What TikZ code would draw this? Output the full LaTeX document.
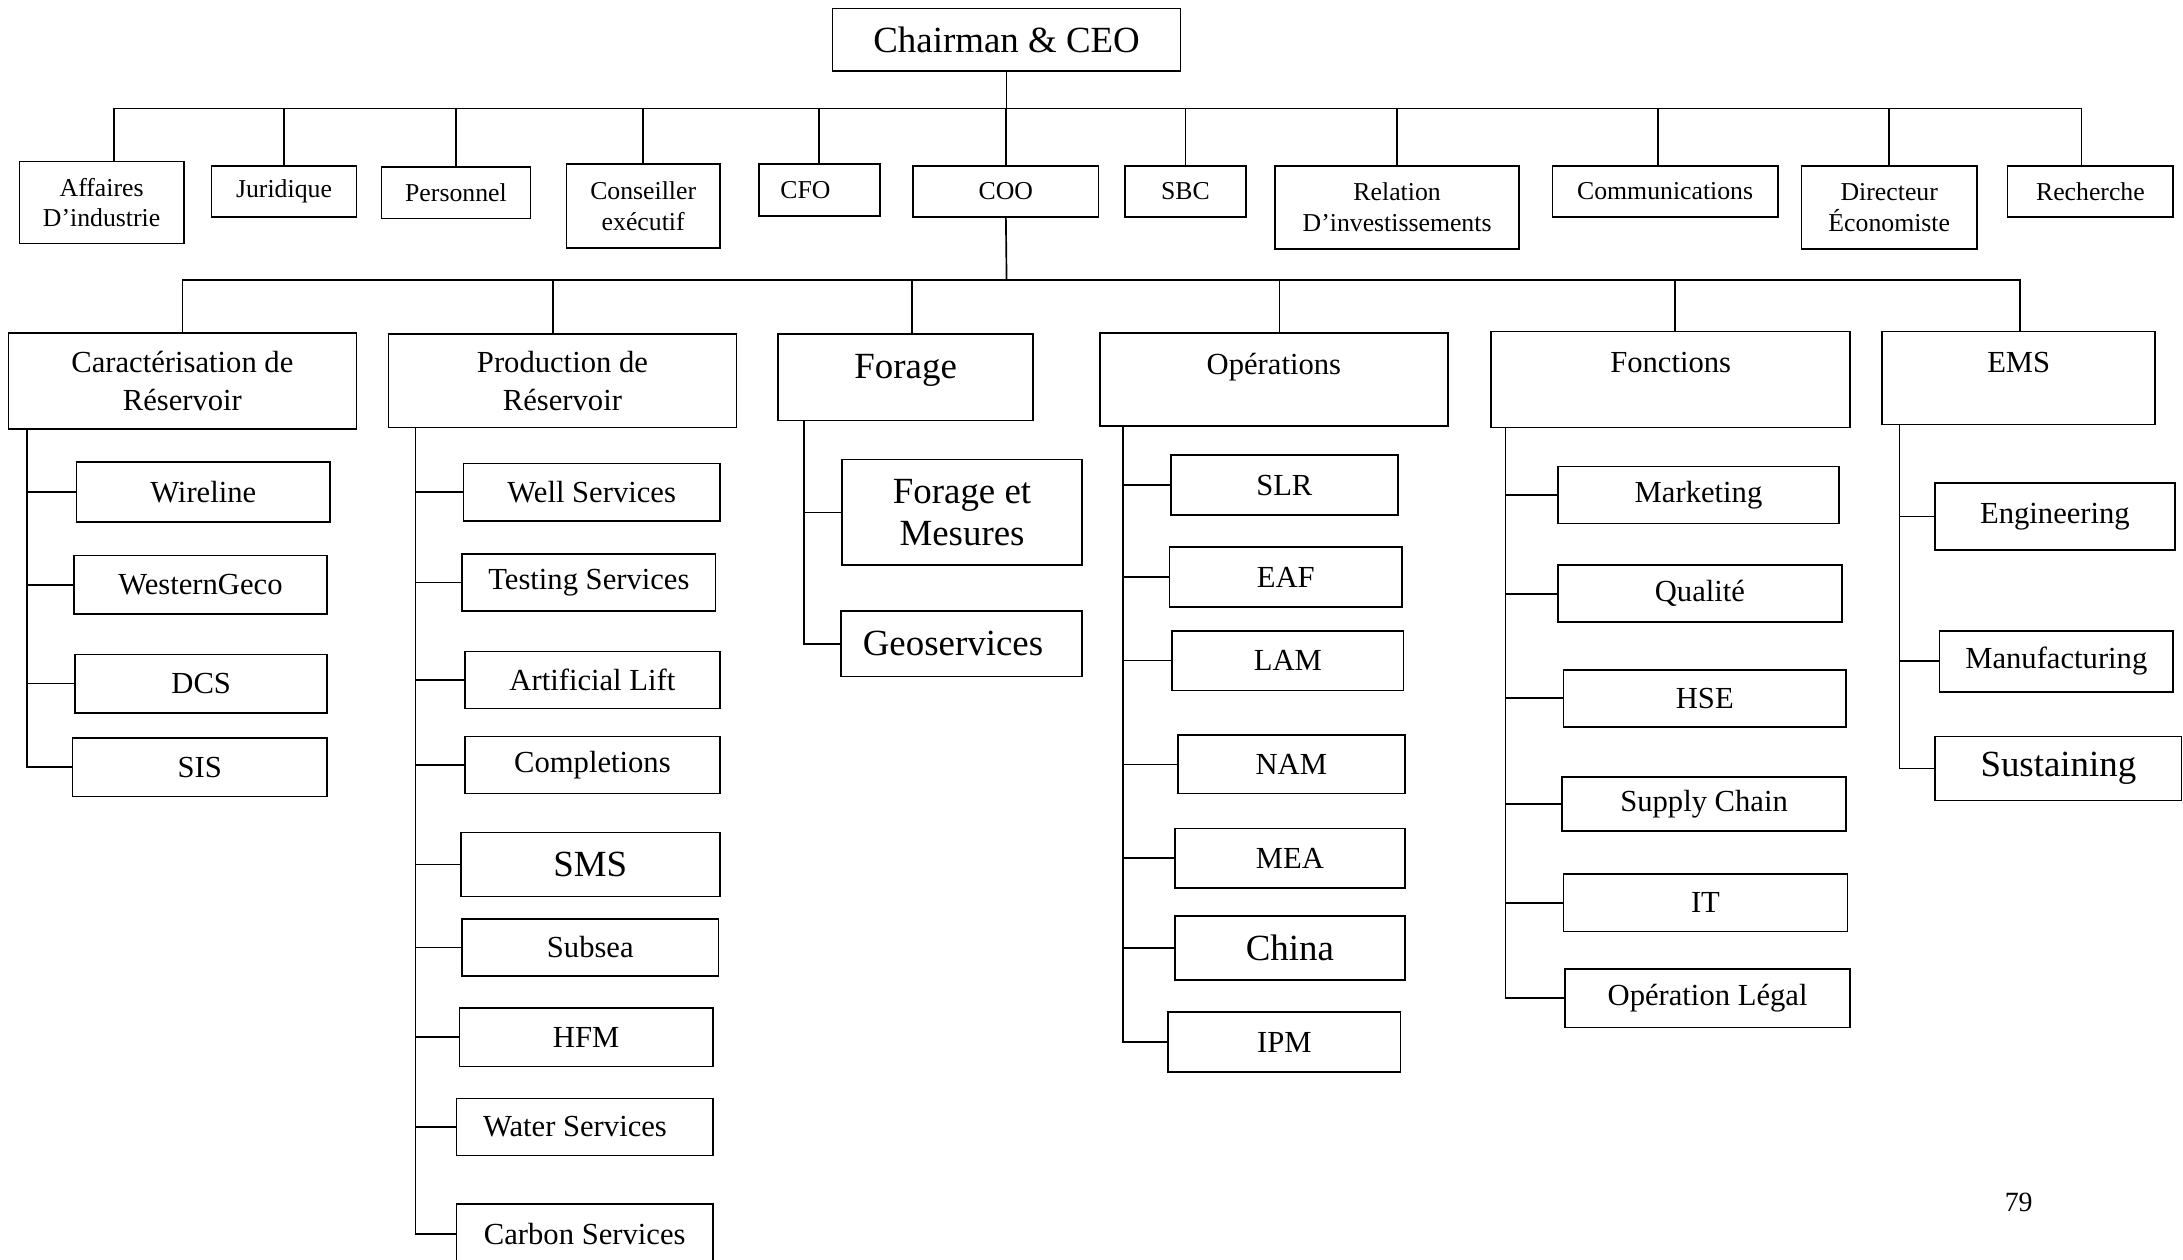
\documentclass[tikz,border=0pt]{standalone}
\usepackage{fontspec}
\setmainfont{Liberation Serif}
\begin{document}
\begin{tikzpicture}[x=1pt,y=1pt,
  box/.style={draw,line width=1.2pt,inner sep=0pt,align=center},
  fa/.style={font=\fontsize{18.5}{22}\selectfont},
  fb/.style={font=\fontsize{22}{27}\selectfont},
  fc/.style={font=\fontsize{26.5}{30}\selectfont},
  ln/.style={line width=1.2pt}]
\useasboundingbox (0,0) rectangle (1568,-905);
% top
\node[box,fc,minimum width=250,minimum height=45] (ceo) at (723,-28.5) {Chairman \& CEO};
% level 1
\node[box,fa,minimum width=118,minimum height=59] (aff) at (73,-145.5) {Affaires\\D’industrie};
\node[box,fa,minimum width=104,minimum height=37] (jur) at (204,-137.5) {Juridique};
\node[box,fa,minimum width=107,minimum height=37] (per) at (327.5,-138.5) {Personnel};
\node[box,fa,minimum width=110,minimum height=60] (con) at (462,-148) {Conseiller\\exécutif};
\node[box,minimum width=87,minimum height=37] (cfo) at (588.5,-136.5) {};
\node[fa] (cfot) at ([xshift=-10pt]cfo.center) {CFO};
\node[box,fa,minimum width=133,minimum height=37] (coo) at (722.5,-137.5) {COO};
\node[box,fa,minimum width=87,minimum height=37] (sbc) at (851.5,-137.5) {SBC};
\node[box,fa,minimum width=175,minimum height=60] (rel) at (1003.5,-149) {Relation\\D’investissements};
\node[box,fa,minimum width=162,minimum height=37] (com) at (1196,-137.5) {Communications};
\node[box,fa,minimum width=126,minimum height=60] (dir) at (1357,-149) {Directeur\\Économiste};
\node[box,fa,minimum width=119,minimum height=37] (rec) at (1501.5,-137.5) {Recherche};
% level 1 connectors
\coordinate (b1) at (723,-78);
\draw[ln] (ceo.south) -- (b1);
\draw[ln] (b1) -| ([xshift=9pt]aff.north);
\draw[ln] (b1) -| ([xshift=-6.5pt]rec.north);
\foreach \n in {jur,per,con,cfo,coo,sbc,rel,dir}{\draw[ln] (\n.north) -- (\n.north |- b1);}
\draw[ln] ([xshift=-5pt]com.north) -- ([xshift=-5pt]com.north |- b1);
% level 2
\node[box,fb,minimum width=250,minimum height=69] (car) at (131,-273.5) {Caractérisation de\\Réservoir};
\node[box,fb,minimum width=250,minimum height=67] (prod) at (404,-273.5) {Production de\\Réservoir};
\node[box,minimum width=183,minimum height=62] (for) at (650.5,-271) {};
\node[fc] (fort) at ([yshift=5pt]for.center) {Forage};
\node[box,minimum width=250,minimum height=67] (ope) at (915,-272.5) {};
\node[fb] (opet) at ([yshift=-25pt]ope.north) {Opérations};
\node[box,minimum width=258,minimum height=69] (fon) at (1200,-272.5) {};
\node[fb] (font) at ([yshift=-23pt]fon.north) {Fonctions};
\node[box,minimum width=196,minimum height=67] (ems) at (1450,-271.5) {};
\node[fb] (emst) at ([yshift=-23pt]ems.north) {EMS};
\coordinate (b2) at (723,-201);
\draw[ln] (coo.south) -- (b2);
\draw[ln] (b2) -| (car.north);
\draw[ln] (b2) -| ([xshift=1pt]ems.north);
\draw[ln] ([xshift=-7pt]prod.north) -- ([xshift=-7pt]prod.north |- b2);
\draw[ln] ([xshift=4.5pt]for.north) -- ([xshift=4.5pt]for.north |- b2);
\draw[ln] ([xshift=4pt]ope.north) -- ([xshift=4pt]ope.north |- b2);
\draw[ln] ([xshift=3pt]fon.north) -- ([xshift=3pt]fon.north |- b2);
% Caracterisation children
\node[box,fb,minimum width=182,minimum height=43] (wir) at (146,-353.5) {Wireline};
\node[box,fb,minimum width=182,minimum height=42] (wes) at (144,-420) {WesternGeco};
\node[box,fb,minimum width=181,minimum height=42] (dcs) at (144.5,-491) {DCS};
\node[box,fb,minimum width=183,minimum height=42] (sis) at (143.5,-551) {SIS};
\coordinate (t1) at ([xshift=14pt]car.south west);
\draw[ln] (t1) |- (sis.west);
\foreach \n in {wir,wes,dcs}{\draw[ln] (\n.west) -- (\n.west -| t1);}
% Production children
\node[box,fb,minimum width=184,minimum height=41] (wel) at (425,-353.5) {Well Services};
\node[box,fb,minimum width=182,minimum height=41] (tes) at (423,-418.5) {Testing Services};
\node[box,fb,minimum width=183,minimum height=41] (art) at (425.5,-488.5) {Artificial Lift};
\node[box,fb,minimum width=183,minimum height=41] (cmp) at (425.5,-549.5) {Completions};
\node[box,fc,minimum width=186,minimum height=46] (sms) at (424,-621) {SMS};
\node[box,fb,minimum width=184,minimum height=41] (sub) at (424,-680.5) {Subsea};
\node[box,fb,minimum width=182,minimum height=42] (hfm) at (421,-745) {HFM};
\node[box,minimum width=184,minimum height=41] (wat) at (420,-809.5) {};
\node[fb] (watt) at ([xshift=-7pt]wat.center) {Water Services};
\node[box,fb,minimum width=184,minimum height=43] (cab) at (420,-886.5) {Carbon Services};
\coordinate (t2) at ([xshift=20pt]prod.south west);
\draw[ln] (t2) |- (cab.west);
\foreach \n in {wel,tes,art,cmp,sms,sub,hfm,wat}{\draw[ln] (\n.west) -- (\n.west -| t2);}
% Forage children
\node[box,fc,minimum width=172,minimum height=76] (fem) at (691,-368) {Forage et\\Mesures};
\node[box,minimum width=173,minimum height=47] (geo) at (690.5,-462.5) {};
\node[fc] (geot) at ([xshift=-6pt]geo.center) {Geoservices};
\coordinate (t3) at ([xshift=19pt]for.south west);
\draw[ln] (t3) |- (geo.west);
\draw[ln] (fem.west) -- (fem.west -| t3);
% Operations children
\node[box,fb,minimum width=163,minimum height=43] (slr) at (922.5,-348.5) {SLR};
\node[box,fb,minimum width=167,minimum height=43] (eaf) at (923.5,-414.5) {EAF};
\node[box,fb,minimum width=166,minimum height=43] (lam) at (925,-474.5) {LAM};
\node[box,fb,minimum width=163,minimum height=42] (nam) at (927.5,-549) {NAM};
\node[box,fb,minimum width=165,minimum height=43] (mea) at (926.5,-616.5) {MEA};
\node[box,fc,minimum width=165,minimum height=46] (chi) at (926.5,-681) {China};
\node[box,fb,minimum width=167,minimum height=43] (ipm) at (922.5,-748.5) {IPM};
\coordinate (t4) at ([xshift=17pt]ope.south west);
\draw[ln] (t4) |- (ipm.west);
\foreach \n in {slr,eaf,lam,nam,mea,chi}{\draw[ln] (\n.west) -- (\n.west -| t4);}
% Fonctions children
\node[box,fb,minimum width=202,minimum height=41] (mar) at (1220,-355.5) {Marketing};
\node[box,fb,minimum width=204,minimum height=41] (qua) at (1221,-426.5) {Qualité};
\node[box,fb,minimum width=203,minimum height=41] (hse) at (1224.5,-501.5) {HSE};
\node[box,fb,minimum width=204,minimum height=39] (sup) at (1224,-577.5) {Supply Chain};
\node[box,fb,minimum width=204,minimum height=41] (it) at (1225,-648.5) {IT};
\node[box,fb,minimum width=205,minimum height=42] (opl) at (1226.5,-717) {Opération Légal};
\coordinate (t5) at ([xshift=11pt]fon.south west);
\draw[ln] (t5) |- (opl.west);
\foreach \n in {mar,qua,hse,sup,it}{\draw[ln] (\n.west) -- (\n.west -| t5);}
% EMS children
\node[box,fb,minimum width=172,minimum height=48] (eng) at (1476,-371) {Engineering};
\node[box,fb,minimum width=168,minimum height=44] (man) at (1477,-475) {Manufacturing};
\node[box,fc,minimum width=177,minimum height=46] (sus) at (1478.5,-552) {Sustaining};
\coordinate (t6) at ([xshift=13pt]ems.south west);
\draw[ln] (t6) |- (sus.west);
\foreach \n in {eng,man}{\draw[ln] (\n.west) -- (\n.west -| t6);}
% page number
\node[font=\fontsize{20}{24}\selectfont] (pg) at (1450,-864) {79};
\end{tikzpicture}
\end{document}
